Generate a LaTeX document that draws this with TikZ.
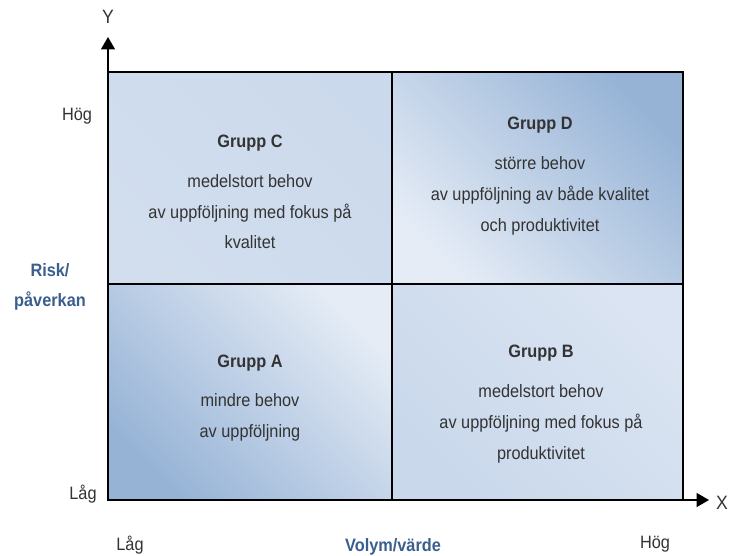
\documentclass[tikz,border=0pt]{standalone}
\usepackage{fontspec}
\setmainfont{Liberation Sans}[FakeStretch=0.91]
\usetikzlibrary{arrows}
\definecolor{qdark}{RGB}{150,179,214}
\definecolor{qmid}{RGB}{186,205,229}
\definecolor{qlight}{RGB}{229,236,246}
\definecolor{txt}{RGB}{51,51,51}
\definecolor{axblue}{RGB}{58,95,143}

\begin{document}
\begin{tikzpicture}[x=0.02cm,y=0.02cm]
			\tikzstyle{es} = [-triangle 60, line width=0.9pt]
			\tikzstyle{grp} = [align=center, text=txt, font=\fontsize{10.2}{17.6}\selectfont]
			\tikzstyle{lbl} = [text=txt, font=\fontsize{10.2}{12}\selectfont]
			\tikzstyle{ax} = [align=center, text=axblue, font=\bfseries\fontsize{10.2}{17}\selectfont]
			\tikzstyle{quad} = [shading angle=-45]
			\useasboundingbox (0,0) rectangle (730,555);
			% quadrants
			\shade [top color=qmid!60!qlight, middle color=qlight, bottom color=qmid!45!qlight, quad] (108,271) rectangle (392,483);
			\shade [top color=qdark, middle color=qlight!70!qmid, bottom color=qlight, quad] (392,271) rectangle (683,483);
			\shade [top color=qlight, middle color=qlight!75!qmid, bottom color=qdark, quad] (108,55) rectangle (392,271);
			\shade [top color=qlight!75!qmid, middle color=qlight, bottom color=qmid!65!qlight, quad] (392,55) rectangle (683,271);
			\draw [line width=1.1pt] (108,55) rectangle (683,483);
			\draw [line width=0.9pt] (392,55) -- (392,483);
			\draw [line width=0.9pt] (108,271) -- (683,271);
			% axes
			\coordinate (o) at (108,55);
			\coordinate (ytop) at (108,518);
			\coordinate (xend) at (709,55);
			\draw [es] (o) -- (ytop);
			\draw [es] (o) -- (xend);
			\node [lbl, font=\fontsize{11}{12}\selectfont] (y) at (108,538) {Y};
			\node [lbl, font=\fontsize{11}{12}\selectfont] (x) at (722,52) {X};
			\node [lbl] (yhigh) at (77,439) {Hög};
			\node [lbl] (ylow) at (83,61) {Låg};
			\node [ax] (risk) at (50,268) {Risk/\\påverkan};
			\node [lbl] (xlow) at (130,10) {Låg};
			\node [ax] (volym) at (393,8) {Volym/värde};
			\node [lbl] (xhigh) at (655,11) {Hög};
			% groups
			\node [grp] (c) at (250,363) {\textbf{Grupp C}\\[5pt]medelstort behov\\av uppföljning med fokus på\\kvalitet};
			\node [grp] (d) at (540,379) {\textbf{Grupp D}\\[5pt]större behov\\av uppföljning av både kvalitet\\och produktivitet};
			\node [grp] (a) at (250,157) {\textbf{Grupp A}\\[5pt]mindre behov\\av uppföljning};
			\node [grp] (b) at (541,151) {\textbf{Grupp B}\\[5pt]medelstort behov\\av uppföljning med fokus på\\produktivitet};
		\end{tikzpicture}
\end{document}
